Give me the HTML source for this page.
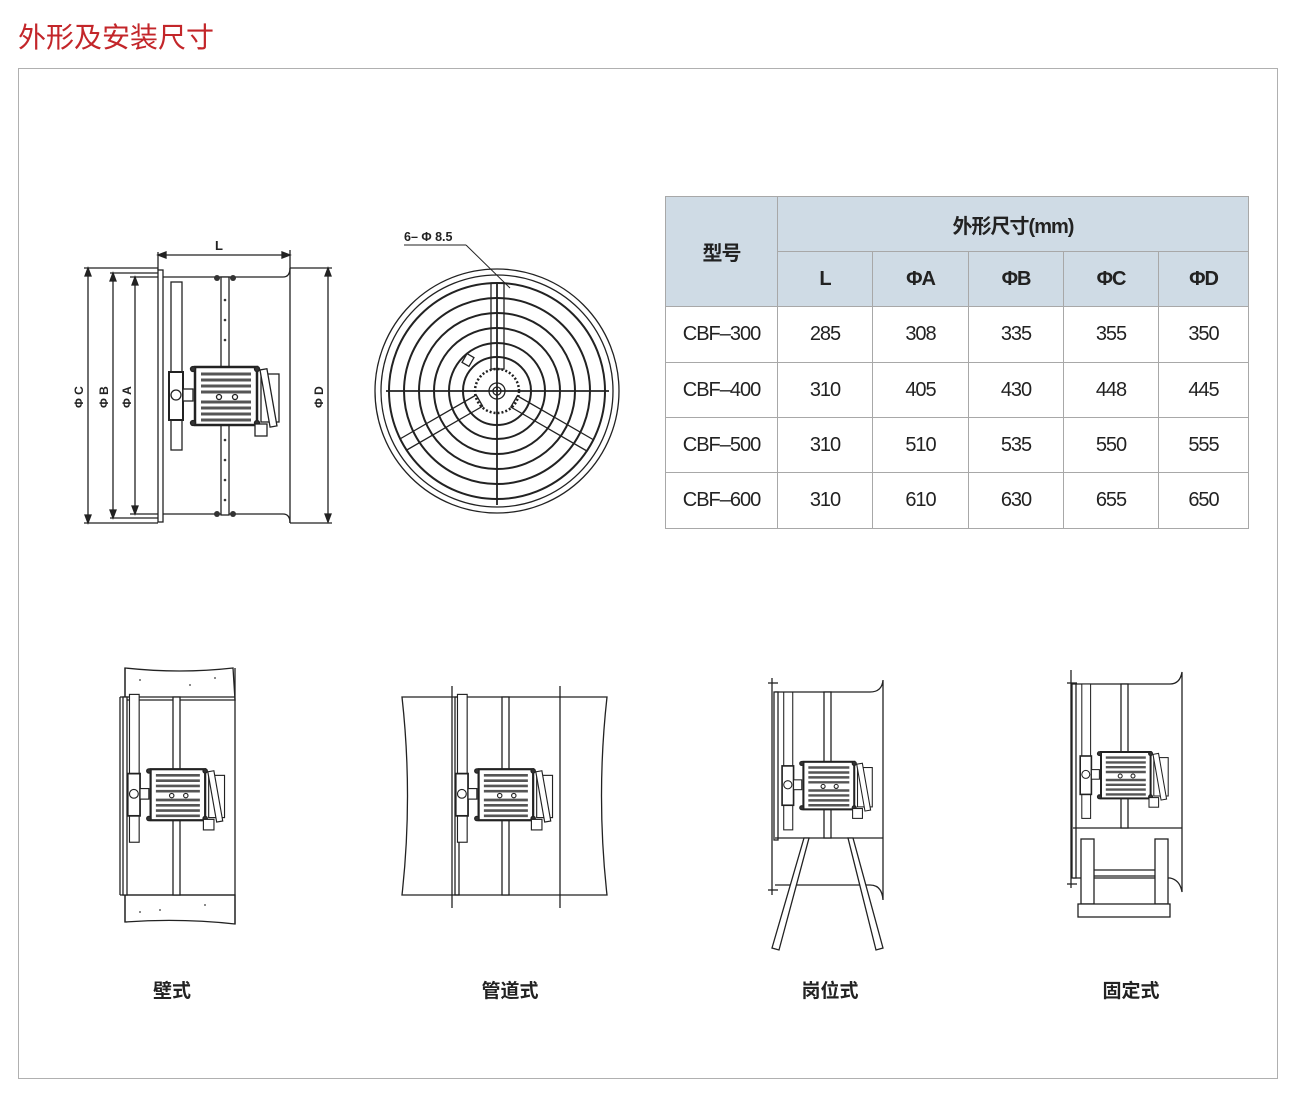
<!DOCTYPE html>
<html><head><meta charset="utf-8"><style>
html,body{margin:0;padding:0;background:#fff;}
body{width:1300px;height:1113px;position:relative;overflow:hidden;font-family:"Liberation Sans","Noto Sans CJK SC",sans-serif;}
.title{position:absolute;left:18px;top:16px;font-size:28px;color:#c3262a;font-family:"Liberation Sans","Noto Sans CJK SC",sans-serif;}
.frame{position:absolute;left:18px;top:68px;width:1258px;height:1009px;border:1.5px solid #b0b0b0;}
table{position:absolute;left:665px;top:196px;border-collapse:collapse;font-size:20px;color:#222;letter-spacing:-1px;}
td{border:1.5px solid #a8a8a8;text-align:center;padding:0;}
.h{background:#cfdbe5;font-weight:bold;}
.lbl{position:absolute;font-size:19px;font-weight:bold;color:#222;transform:translateX(-50%);}
svg{position:absolute;left:0;top:0;}
</style></head><body>
<div class="title">外形及安装尺寸</div>
<div class="frame"></div>

<svg width="1300" height="1113" viewBox="0 0 1300 1113" fill="none" stroke="#222" stroke-width="1.3">
<defs>
<g id="motor">
 <rect x="-54" y="5" width="11" height="168" fill="#fff"/>
 <rect x="-56" y="95" width="14" height="48" fill="#fff" stroke-width="2"/>
 <circle cx="-49" cy="118" r="5" fill="#fff"/>
 <rect x="-42" y="112" width="10" height="12" fill="#fff"/>
 <rect x="-30" y="90" width="62" height="58" fill="#fff" stroke-width="2.5"/>
 <g stroke="#555" stroke-width="3">
  <line x1="-24" y1="97" x2="26" y2="97"/><line x1="-24" y1="103" x2="26" y2="103"/>
  <line x1="-24" y1="109" x2="26" y2="109"/><line x1="-24" y1="115" x2="26" y2="115"/>
  <line x1="-24" y1="125" x2="26" y2="125"/><line x1="-24" y1="131" x2="26" y2="131"/>
  <line x1="-24" y1="137" x2="26" y2="137"/><line x1="-24" y1="143" x2="26" y2="143"/>
 </g>
 <circle cx="-6" cy="120" r="2.5" fill="#fff"/><circle cx="10" cy="120" r="2.5" fill="#fff"/>
 <circle cx="-32" cy="92" r="2.5" fill="#333"/><circle cx="32" cy="92" r="2.5" fill="#333"/>
 <circle cx="-32" cy="146" r="2.5" fill="#333"/><circle cx="32" cy="146" r="2.5" fill="#333"/>
 <rect x="36" y="97" width="18" height="48" fill="#fff"/>
 <rect x="40" y="92" width="7" height="58" fill="#fff" transform="rotate(-10 43 121)"/>
 <rect x="30" y="147" width="12" height="12" fill="#fff"/>
</g>
</defs>

<g>
 <line x1="158" y1="255" x2="290" y2="255"/>
 <path d="M158 255 l8 -3 v6z M290 255 l-8 -3 v6z" fill="#222"/>
 <line x1="158" y1="252" x2="158" y2="270"/><line x1="290" y1="250" x2="290" y2="268"/>
 <line x1="84" y1="268" x2="158" y2="268"/><line x1="110" y1="273" x2="160" y2="273"/><line x1="130" y1="277" x2="163" y2="277"/>
 <line x1="84" y1="523" x2="158" y2="523"/><line x1="110" y1="518" x2="160" y2="518"/><line x1="130" y1="514" x2="163" y2="514"/>
 <line x1="88" y1="268" x2="88" y2="523"/><line x1="113" y1="273" x2="113" y2="518"/><line x1="135" y1="277" x2="135" y2="514"/>
 <path d="M88 268l-3 8h6z M88 523l-3 -8h6z M113 273l-3 8h6z M113 518l-3 -8h6z M135 277l-3 8h6z M135 514l-3 -8h6z M328 268l-3 8h6z M328 522l-3 -8h6z" fill="#222"/>
 <rect x="158" y="270" width="5" height="252" fill="#fff"/>
 <line x1="163" y1="277" x2="283" y2="277"/><path d="M283 277q7 0 7 -9"/>
 <line x1="163" y1="514" x2="283" y2="514"/><path d="M283 514q7 0 7 9"/>
 <line x1="290" y1="268" x2="290" y2="523"/>
 <line x1="290" y1="268" x2="332" y2="268"/><line x1="290" y1="523" x2="332" y2="523"/>
 <line x1="328" y1="268" x2="328" y2="522"/>
 <rect x="221" y="277" width="8" height="238" fill="#fff"/>
 <g fill="#333" stroke="none">
  <circle cx="217" cy="278" r="3"/><circle cx="233" cy="278" r="3"/><circle cx="217" cy="514" r="3"/><circle cx="233" cy="514" r="3"/>
  <circle cx="225" cy="300" r="1.3"/><circle cx="225" cy="320" r="1.3"/><circle cx="225" cy="340" r="1.3"/><circle cx="225" cy="440" r="1.3"/><circle cx="225" cy="460" r="1.3"/><circle cx="225" cy="480" r="1.3"/><circle cx="225" cy="500" r="1.3"/>
 </g>
 <use href="#motor" x="225" y="277"/>
 <text x="215" y="250" fill="#222" stroke="none" font-size="13" font-weight="bold" font-family="Liberation Sans">L</text>
 <g fill="#222" stroke="none" font-size="12" font-weight="bold" font-family="Liberation Sans">
  <text transform="translate(83 408) rotate(-90)">Φ C</text>
  <text transform="translate(108 408) rotate(-90)">Φ B</text>
  <text transform="translate(131 408) rotate(-90)">Φ A</text>
  <text transform="translate(323 408) rotate(-90)">Φ D</text>
 </g>
</g>

<g>
 <text x="404" y="241" fill="#222" stroke="none" font-size="12.5" font-weight="bold" font-family="Liberation Sans">6– Φ 8.5</text>
 <line x1="404" y1="245" x2="466" y2="245" stroke-width="1"/>
 <line x1="466" y1="245" x2="510" y2="288" stroke-width="1"/>
 <circle cx="497" cy="391" r="122"/><circle cx="497" cy="391" r="116"/>
 <circle cx="497" cy="391" r="108" stroke-width="2"/><circle cx="497" cy="391" r="93" stroke-width="2"/>
 <circle cx="497" cy="391" r="78" stroke-width="2"/><circle cx="497" cy="391" r="63" stroke-width="2"/>
 <circle cx="497" cy="391" r="48" stroke-width="2"/><circle cx="497" cy="391" r="34" stroke-width="2"/>
 <circle cx="497" cy="391" r="22" fill="#fff" stroke-width="2.5" stroke-dasharray="2 2"/>
 <circle cx="497" cy="391" r="8"/><circle cx="497" cy="391" r="4"/>
 <line x1="386" y1="391" x2="609" y2="391" stroke-width="1.8"/>
 <line x1="497" y1="283" x2="497" y2="505" stroke-width="1.8"/>
 <rect x="491" y="283" width="13" height="86" fill="none"/>
 <g transform="rotate(120 497 391)"><rect x="491" y="283" width="13" height="88" fill="none"/></g>
 <g transform="rotate(240 497 391)"><rect x="491" y="283" width="13" height="88" fill="none"/></g>
 <rect x="464" y="355" width="8" height="10" transform="rotate(30 468 360)"/>
</g>

<g>
 <path d="M125 668 L125 700 L235 700 L233 668 Q180 674 125 668Z" fill="#fff"/>
 <path d="M125 895 L125 922 Q180 918 235 924 L235 895Z" fill="#fff"/>
 <line x1="125" y1="668" x2="125" y2="922"/><line x1="235" y1="668" x2="235" y2="924"/>
 <line x1="120" y1="697" x2="120" y2="895"/><line x1="120" y1="697" x2="235" y2="697"/><line x1="120" y1="895" x2="235" y2="895"/>
 <rect x="123" y="697" width="4" height="198" fill="#fff"/>
 <g fill="#666" stroke="none"><circle cx="140" cy="680" r="1"/><circle cx="190" cy="685" r="1"/><circle cx="215" cy="678" r="1"/><circle cx="160" cy="910" r="1"/><circle cx="205" cy="905" r="1"/><circle cx="140" cy="912" r="1"/></g>
 <rect x="173" y="697" width="7" height="198" fill="#fff"/>
 <use href="#motor" transform="translate(177 690) scale(0.88)"/>
</g>

<g>
 <path d="M402 697 L607 697 Q596 796 607 895 L402 895 Q413 796 402 697Z"/>
 <line x1="452" y1="686" x2="452" y2="908"/><line x1="560" y1="686" x2="560" y2="908"/>
 <rect x="455" y="697" width="4" height="198"/>
 <rect x="502" y="697" width="7" height="198" fill="#fff"/>
 <use href="#motor" transform="translate(505 690) scale(0.88)"/>
</g>

<g>
 <line x1="772" y1="678" x2="772" y2="895"/><line x1="768" y1="683" x2="778" y2="683"/><line x1="768" y1="890" x2="778" y2="890"/>
 <path d="M775 692 L870 692 Q882 692 883 680 L883 900 Q882 885 870 885 L775 885"/>
 <rect x="774" y="692" width="4" height="148" fill="#fff"/>
 <line x1="775" y1="838" x2="883" y2="838"/>
 <rect x="824" y="692" width="7" height="146" fill="#fff"/>
 <use href="#motor" transform="translate(828 688) scale(0.82)"/>
 <path d="M804 838 L809 838 L779 950 L772 948Z" fill="#fff"/>
 <path d="M848 838 L853 838 L883 948 L876 950Z" fill="#fff"/>
</g>

<g>
 <line x1="1071" y1="670" x2="1071" y2="888"/><line x1="1067" y1="683" x2="1077" y2="683"/><line x1="1067" y1="884" x2="1077" y2="884"/>
 <path d="M1073 684 L1170 684 Q1180 684 1182 672 L1182 892 Q1180 880 1170 878 L1073 878"/>
 <rect x="1072" y="684" width="4" height="194" fill="#fff"/>
 <line x1="1073" y1="828" x2="1182" y2="828"/>
 <rect x="1121" y="684" width="7" height="144" fill="#fff"/>
 <use href="#motor" transform="translate(1125 680) scale(0.8)"/>
 <rect x="1081" y="839" width="13" height="65" fill="#fff"/>
 <rect x="1155" y="839" width="13" height="65" fill="#fff"/>
 <line x1="1094" y1="870" x2="1155" y2="870"/><line x1="1094" y1="876" x2="1155" y2="876"/>
 <rect x="1078" y="904" width="92" height="13" fill="#fff"/>
</g>
</svg>

<table>
<tr style="height:55px"><td class="h" rowspan="2" style="width:111px">型号</td><td class="h" colspan="5">外形尺寸(mm)</td></tr>
<tr style="height:55px"><td class="h" style="width:94px">L</td><td class="h" style="width:95px">ΦA</td><td class="h" style="width:94px">ΦB</td><td class="h" style="width:94px">ΦC</td><td class="h" style="width:89px">ΦD</td></tr>
<tr style="height:56px"><td>CBF–300</td><td>285</td><td>308</td><td>335</td><td>355</td><td>350</td></tr>
<tr style="height:55px"><td>CBF–400</td><td>310</td><td>405</td><td>430</td><td>448</td><td>445</td></tr>
<tr style="height:55px"><td>CBF–500</td><td>310</td><td>510</td><td>535</td><td>550</td><td>555</td></tr>
<tr style="height:56px"><td>CBF–600</td><td>310</td><td>610</td><td>630</td><td>655</td><td>650</td></tr>
</table>

<div class="lbl" style="left:172px;top:976px">壁式</div>
<div class="lbl" style="left:510px;top:976px">管道式</div>
<div class="lbl" style="left:830px;top:976px">岗位式</div>
<div class="lbl" style="left:1131px;top:976px">固定式</div>
</body></html>
